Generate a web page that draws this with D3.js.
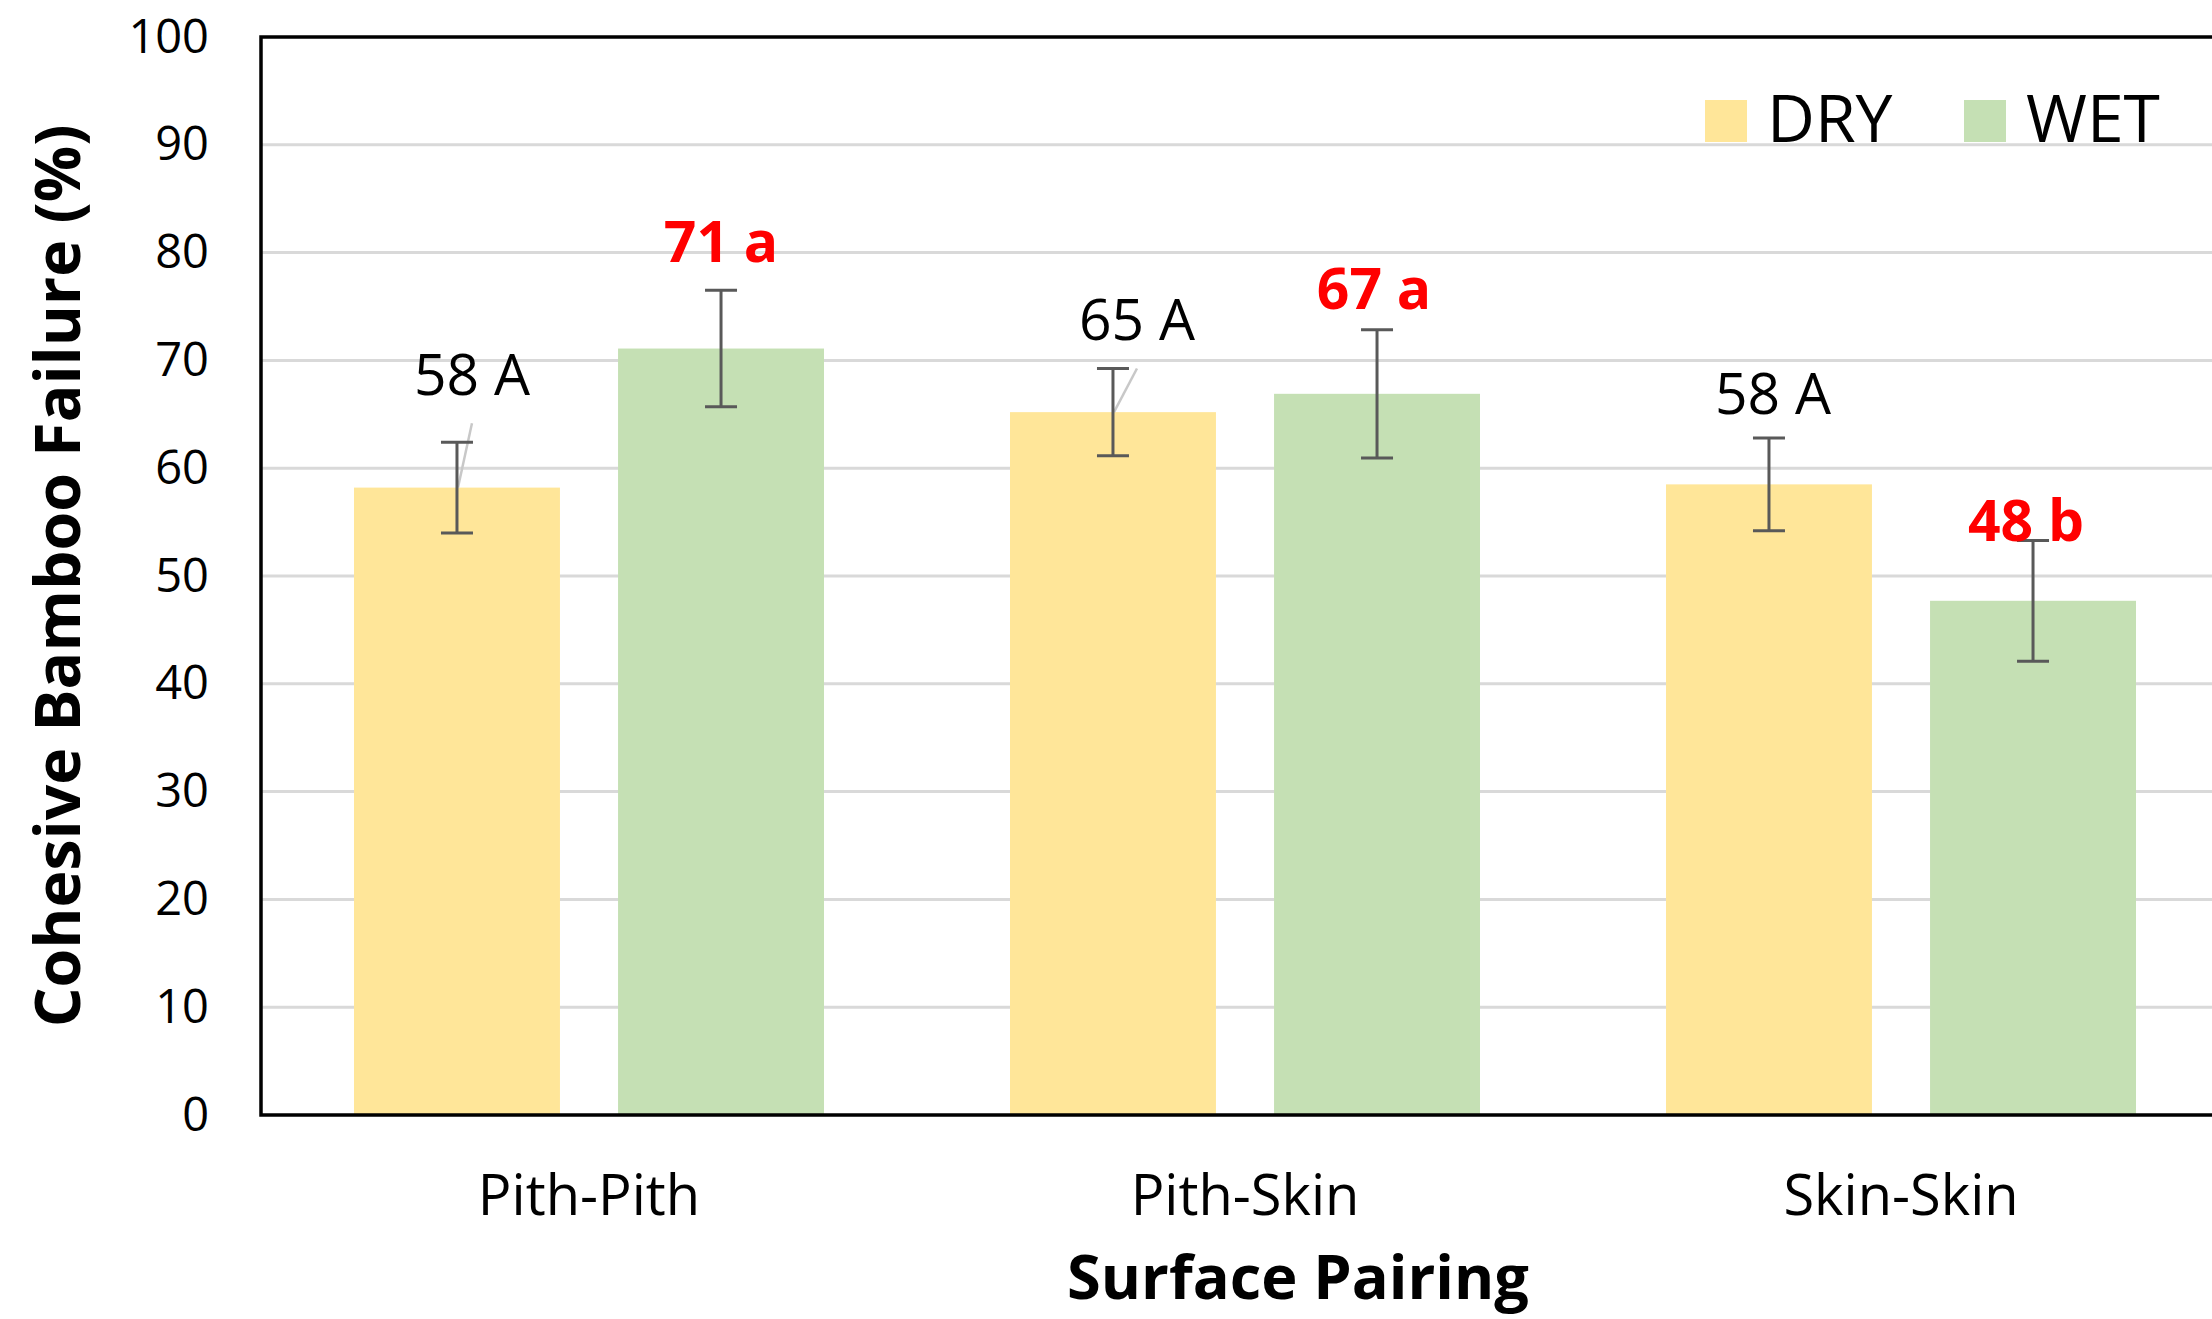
<!DOCTYPE html>
<html>
<head>
<meta charset="utf-8">
<script src="https://cdn.jsdelivr.net/npm/d3@7/dist/d3.min.js"></script>
<style>
  html, body { margin: 0; padding: 0; background: #ffffff; }
  svg { display: block; }
  text { font-family: "Open Sans", "Noto Sans", "DejaVu Sans", sans-serif; }
</style>
</head>
<body>
<svg id="chart" width="2212" height="1319"></svg>
<script>
// ---- data ----
const categories = ["Pith-Pith", "Pith-Skin", "Skin-Skin"];
const seriesNames = ["DRY", "WET"];
const dryValues = [58.2, 65.2, 58.5];
const dryErrors = [4.2, 4.05, 4.3];
const wetValues = [71.1, 66.9, 47.7];
const wetErrors = [5.4, 5.95, 5.6];
const dryLabels = ["58 A", "65 A", "58 A"];
const wetLabels = ["71 a", "67 a", "48 b"];
const yTicks = [0, 10, 20, 30, 40, 50, 60, 70, 80, 90, 100];
const yTitle = "Cohesive Bamboo Failure (%)";
const xTitle = "Surface Pairing";

// ---- layout (kept separate from data) ----
const colors = { DRY: "#FFE699", WET: "#C5E0B4" };
const plot = { left: 261, top: 37, bottom: 1115, width: 1968 };
// label nudges in px relative to (bar centre, error-bar top)
const labelNudge = {
  DRY: [[15, -47], [24, -28], [4, -24]],
  WET: [[0, -28], [-3, -21], [-7, 1]]
};
const leaderLines = { DRY: [true, true, false], WET: [false, false, false] };

const svg = d3.select("#chart");

const y = d3.scaleLinear().domain([0, 100]).range([plot.bottom, plot.top]);
const x0 = d3.scaleBand().domain(categories)
  .range([plot.left, plot.left + plot.width]).paddingInner(0).paddingOuter(0);
const x1 = d3.scaleBand().domain(seriesNames)
  .range([93, x0.bandwidth() - 93]).paddingInner(0.22).paddingOuter(0);

// gridlines
svg.append("g").selectAll("line").data(yTicks.filter(t => t > 0 && t < 100)).join("line")
  .attr("x1", plot.left).attr("x2", 2212)
  .attr("y1", d => y(d)).attr("y2", d => y(d))
  .attr("stroke", "#d9d9d9").attr("stroke-width", 3);

// y axis tick labels via d3 axis
const yAxis = d3.axisLeft(y).tickValues(yTicks).tickSize(0).tickPadding(52);
const gy = svg.append("g").attr("transform", `translate(${plot.left},0)`).call(yAxis);
gy.select(".domain").remove();
gy.selectAll("text")
  .attr("font-family", "'Open Sans', sans-serif")
  .attr("font-size", 47).attr("fill", "#000");

// series
const series = [
  { name: "DRY", values: dryValues, errors: dryErrors, labels: dryLabels, labelColor: "#000000", bold: false },
  { name: "WET", values: wetValues, errors: wetErrors, labels: wetLabels, labelColor: "#FF0000", bold: true }
];

series.forEach(s => {
  const rows = categories.map((c, i) => ({ c, i, v: s.values[i], e: s.errors[i], lab: s.labels[i] }));
  const g = svg.append("g");
  g.selectAll("rect").data(rows).join("rect")
    .attr("x", d => x0(d.c) + x1(s.name))
    .attr("width", x1.bandwidth())
    .attr("y", d => y(d.v))
    .attr("height", d => y(0) - y(d.v))
    .attr("fill", colors[s.name]);
});

// leader lines, error bars, labels
series.forEach(s => {
  categories.forEach((c, i) => {
    const cx = x0(c) + x1(s.name) + x1.bandwidth() / 2;
    const v = s.values[i], e = s.errors[i];
    const [dx, dy] = labelNudge[s.name][i];
    const lx = cx + dx, ly = y(v + e) + dy;
    if (leaderLines[s.name][i]) {
      svg.append("line")
        .attr("x1", lx).attr("y1", ly + 28)
        .attr("x2", cx + 1).attr("y2", y(v))
        .attr("stroke", "#c8c8c8").attr("stroke-width", 2.5);
    }
    const eg = svg.append("g").attr("stroke", "#595959").attr("stroke-width", 3);
    eg.append("line").attr("x1", cx).attr("x2", cx).attr("y1", y(v + e)).attr("y2", y(v - e));
    eg.append("line").attr("x1", cx - 16).attr("x2", cx + 16).attr("y1", y(v + e)).attr("y2", y(v + e));
    eg.append("line").attr("x1", cx - 16).attr("x2", cx + 16).attr("y1", y(v - e)).attr("y2", y(v - e));
    svg.append("text")
      .attr("x", lx).attr("y", ly)
      .attr("text-anchor", "middle")
      .attr("font-size", 57)
      .attr("font-weight", s.bold ? 700 : 400)
      .attr("fill", s.labelColor)
      .text(s.labels[i]);
  });
});

// frame (plot area border)
svg.append("rect")
  .attr("x", plot.left).attr("y", y(100))
  .attr("width", plot.width).attr("height", y(0) - y(100))
  .attr("fill", "none").attr("stroke", "#000").attr("stroke-width", 3.5);

// x category labels via axis
const xAxis = d3.axisBottom(x0).tickSize(0).tickPadding(0);
const gx = svg.append("g").attr("transform", `translate(0,${plot.bottom})`).call(xAxis);
gx.select(".domain").remove();
gx.selectAll("text")
  .attr("font-family", "'Open Sans', sans-serif")
  .attr("font-size", 56).attr("fill", "#000")
  .attr("dy", null).attr("y", 100);

// legend
const legend = svg.append("g");
const legendPos = [1705, 1964];
seriesNames.forEach((n, i) => {
  legend.append("rect").attr("x", legendPos[i]).attr("y", 100).attr("width", 42).attr("height", 42)
    .attr("fill", colors[n]);
  legend.append("text").attr("x", legendPos[i] + 62).attr("y", 142)
    .attr("font-size", 66).attr("fill", "#000").text(n);
});

// axis titles
const yt = svg.append("text")
  .attr("transform", `translate(80,${(y(0) + y(100)) / 2}) rotate(-90)`)
  .attr("text-anchor", "middle")
  .attr("font-weight", 700).attr("font-size", 62).attr("fill", "#000")
  .text(yTitle);
const ylen = yt.node().getComputedTextLength();
yt.attr("font-size", 62 * 903 / ylen);

const xt = svg.append("text")
  .attr("x", 1298).attr("y", 1299)
  .attr("text-anchor", "middle")
  .attr("font-weight", 700).attr("font-size", 60).attr("fill", "#000")
  .text(xTitle);
const xlen = xt.node().getComputedTextLength();
xt.attr("font-size", 60 * 462 / xlen);
</script>
</body>
</html>
